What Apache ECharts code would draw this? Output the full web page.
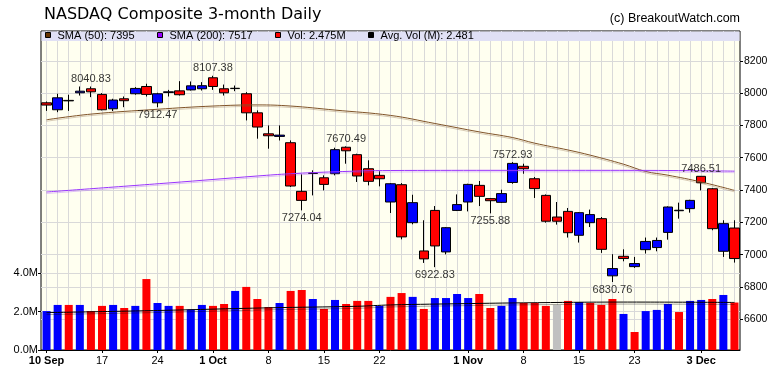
<!DOCTYPE html>
<html>
<head>
<meta charset="utf-8">
<title>NASDAQ Composite 3-month Daily</title>
<script src="https://cdn.jsdelivr.net/npm/echarts@6.0.0/dist/echarts.min.js"></script>
<style>
html, body { margin: 0; padding: 0; background: #fff; }
#chart { width: 780px; height: 376px; }
</style>
</head>
<body>
<div id="chart"></div>
<script>
// trading days, 10 Sep - 7 Dec 2018
var dates = [
    '2018-09-10','2018-09-11','2018-09-12','2018-09-13','2018-09-14',
    '2018-09-17','2018-09-18','2018-09-19','2018-09-20','2018-09-21',
    '2018-09-24','2018-09-25','2018-09-26','2018-09-27','2018-09-28',
    '2018-10-01','2018-10-02','2018-10-03','2018-10-04','2018-10-05',
    '2018-10-08','2018-10-09','2018-10-10','2018-10-11','2018-10-12',
    '2018-10-15','2018-10-16','2018-10-17','2018-10-18','2018-10-19',
    '2018-10-22','2018-10-23','2018-10-24','2018-10-25','2018-10-26',
    '2018-10-29','2018-10-30','2018-10-31','2018-11-01','2018-11-02',
    '2018-11-05','2018-11-06','2018-11-07','2018-11-08','2018-11-09',
    '2018-11-12','2018-11-13','2018-11-14','2018-11-15','2018-11-16',
    '2018-11-19','2018-11-20','2018-11-21','2018-11-23',
    '2018-11-26','2018-11-27','2018-11-28','2018-11-29','2018-11-30',
    '2018-12-03','2018-12-04','2018-12-06','2018-12-07'
];

var openP  = [7940,7897,7952,8002,8027,7992,7903,7965,7996,8041,7940,8004,8014,8020,8027,8095,8027,8028,7996,7878,
              7748,7732,7693,7392,7503,7476,7501,7665,7619,7532,7491,7326,7433,7198,7023,7274,7017,7274,7326,7429,
              7347,7324,7447,7547,7470,7367,7233,7268,7120,7198,7223,6869,6990,6926,7031,7044,7138,7272,7285,7485,
              7408,7021,7165];
var highP  = [7948,7996,7990,8041,8040.83,8000,7965,7979,8037,8058,8002,8020,8074,8072,8068,8107.38,8053,8047,8006,7893,
              7800,7800,7707,7497,7522,7491,7662,7670.49,7625,7584,7516,7443,7443,7371,7213,7301,7171,7373,7439,7456,
              7351,7402,7572.93,7563,7481,7373,7326,7289,7264,7279,7233,7003,7033,6986,7106,7106,7299,7322,7340,7486.51,
              7413,7213,7213];
var lowP   = [7890,7882,7890,7985,7975,7893,7889,7913,7990,7979,7912.47,7979,7985,8016,8016,8020,7985,8012,7831,7718,
              7656,7707,7419,7274.04,7367,7398,7491,7563,7450,7429,7423,7258,7095,7188,6949,6922.83,7002,7270,7268,7301,
              7255.88,7320,7439,7501,7351,7198,7186,7106,7075,7171,7011,6830.76,6959,6918,7007,7021,7093,7223,7260,7398,
              7151,6986,6951];
var closeP = [7926,7971,7955,8012,8008,7897,7957,7953,8029,7992,7996,8008,7990,8045,8046,8041,8002,8030,7878,7790,
              7736,7740,7425,7336,7505,7435,7650,7643,7487,7454,7470,7439,7110,7322,6974,7054,7167,7310,7435,7361,
              7334,7378,7565,7532,7409,7207,7207,7136,7260,7248,7033,6914,6976,6945,7082,7088,7295,7275,7336,7445,
              7161,7192,6976];
var prevClose = 7902;

// volume, millions
var vols = [2.03,2.35,2.35,2.35,2.03,2.30,2.35,2.19,2.30,3.70,2.45,2.30,2.30,2.12,2.35,2.30,2.40,3.08,3.29,2.66,
            2.24,2.45,3.08,3.13,2.66,2.14,2.61,2.40,2.56,2.56,2.30,2.77,2.97,2.77,2.14,2.71,2.71,2.92,2.71,2.92,
            2.19,2.30,2.71,2.45,2.45,2.30,2.35,2.56,2.50,2.45,2.35,2.66,1.88,0.94,2.03,2.09,2.40,1.98,2.56,2.61,
            2.66,2.87,2.475];

// moving averages read at a few days, [day index, value]
var sma50  = [[0,7835],[4,7870],[10,7900],[15,7920],[19,7927],[22,7920],[26,7895],[31,7862],[35,7812],[39,7760],
              [42,7725],[44,7690],[47,7648],[49,7616],[52,7560],[54,7515],[56,7492],[59,7450],[62,7398]];
var sma200 = [[0,7388],[11,7444],[19,7487],[22,7501],[26,7513],[31,7521],[40,7522],[50,7522],[56,7521],[62,7517]];
var avgVol = [[0,1.95],[10,2.06],[20,2.20],[28,2.28],[31,2.35],[38,2.42],[43,2.46],[52,2.50],[62,2.48]];

// marked highs and lows
var highMarks = [[4,8040.83],[15,8107.38],[27,7670.49],[42,7572.93],[59,7486.51]];
var lowMarks  = [[10,7912.47],[23,7274.04],[35,6922.83],[40,7255.88],[51,6830.76]];

// x axis labels
var tickIdx  = [0,5,10,15,20,25,30,38,43,48,53,59];
var tickText = ['10 Sep','17','24','1 Oct','8','15','22','1 Nov','8','15','23','3 Dec'];

var legendItems = [
    {text: 'SMA (50): 7395',       color: '#663300', x: 45.5},
    {text: 'SMA (200): 7517',      color: '#9900FF', x: 157.5},
    {text: 'Vol: 2.475M',          color: '#FF0000', x: 275.5},
    {text: 'Avg. Vol (M): 2.481',  color: '#000000', x: 368.5}
];

var FONT = '"Liberation Sans", Arial, sans-serif';
var GRIDC = '#D9D9D9';

var candles = dates.map(function (d, i) {
    return [openP[i], closeP[i], lowP[i], highP[i]];
});

var volData = vols.map(function (v, i) {
    var prev = i === 0 ? prevClose : closeP[i - 1];
    var c = closeP[i] > prev ? '#0000FF' : (closeP[i] < prev ? '#FF0000' : '#C0C0C0');
    return {value: v, itemStyle: {color: c}};
});

// half-day slots so the vertical grid runs through each candle
var slots = [];
for (var s = 0; s <= dates.length * 2; s++) slots.push(s);

var graphics = [
    {type: 'text', left: 44, top: 7, z: 110,
     style: {text: 'NASDAQ Composite 3-month Daily', font: '16px "DejaVu Sans"', fill: '#000'}},
    {type: 'text', right: 40, top: 12, z: 110,
     style: {text: '(c) BreakoutWatch.com', font: '12.5px ' + FONT, fill: '#000'}},
    {type: 'rect', z: 100, shape: {x: 41.5, y: 31.5, width: 698, height: 9.5},
     style: {fill: '#E0E0F5'}}
];
legendItems.forEach(function (it) {
    graphics.push({type: 'rect', z: 110, shape: {x: it.x, y: 32.5, width: 5, height: 5},
        style: {fill: it.color, stroke: '#000', lineWidth: 1}});
    graphics.push({type: 'text', z: 110, x: it.x + 12, y: 35.5,
        style: {text: it.text, font: '11px ' + FONT, fill: '#000',
                textVerticalAlign: 'middle', verticalAlign: 'middle'}});
});

var chart = echarts.init(document.getElementById('chart'));

var option = {
    animation: false,
    backgroundColor: '#fff',
    graphic: graphics,
    grid: [
        {left: 41, right: 40, top: 31, bottom: 26, show: true,
         backgroundColor: '#FFFFF0', borderColor: '#000', borderWidth: 1},
        {left: 41, right: 40, top: 60.8, height: 258.5},
        {left: 41, right: 40, top: 273.3, bottom: 26}
    ],
    xAxis: [{
        gridIndex: 0, type: 'category', data: slots, boundaryGap: false,
        axisLine: {show: false}, axisTick: {show: false}, axisLabel: {show: false},
        splitLine: {show: true, interval: function (i) { return i % 2 === 1; },
                    lineStyle: {color: GRIDC, width: 1}}
    }, {
        gridIndex: 1, type: 'category', data: dates, boundaryGap: true, show: false
    }, {
        gridIndex: 2, type: 'category', data: dates, boundaryGap: true,
        axisLine: {show: true, lineStyle: {color: '#000'}},
        axisTick: {show: true, alignWithLabel: true, length: 3, lineStyle: {color: '#000'},
                   interval: function (i) { return tickIdx.indexOf(i) >= 0; }},
        axisLabel: {
            interval: function (i) { return tickIdx.indexOf(i) >= 0; },
            margin: 5, color: '#000', fontSize: 11, fontFamily: FONT,
            formatter: function (v, i) {
                var t = tickText[tickIdx.indexOf(i)];
                return t.indexOf(' ') > 0 ? '{b|' + t + '}' : t;
            },
            rich: {b: {fontWeight: 'bold', fontSize: 11, fontFamily: FONT, color: '#000'}}
        },
        splitLine: {show: false}
    }],
    yAxis: [{
        gridIndex: 0, type: 'value', min: 0, max: 1, show: false
    }, {
        gridIndex: 1, type: 'value', position: 'right', min: 6600, max: 8200, interval: 200,
        axisLine: {show: false},
        axisTick: {show: true, length: 3, lineStyle: {color: '#000'}},
        axisLabel: {color: '#000', fontSize: 10.5, fontFamily: FONT, margin: 4,
                    formatter: function (v) { return String(v); }},
        splitLine: {show: true, lineStyle: {color: GRIDC}}
    }, {
        gridIndex: 2, type: 'value', position: 'left', min: 0, max: 4, interval: 2,
        axisLine: {show: false},
        axisTick: {show: true, length: 3, lineStyle: {color: '#000'}},
        axisLabel: {color: '#000', fontSize: 11, fontFamily: FONT, margin: 3,
                    formatter: function (v) { return v.toFixed(1) + 'M'; }},
        splitLine: {show: true, lineStyle: {color: GRIDC}}
    }],
    series: [{
        name: 'Price', type: 'candlestick', xAxisIndex: 1, yAxisIndex: 1,
        data: candles, barWidth: 10,
        itemStyle: {color: '#0000FF', color0: '#FF0000', borderColor: '#000', borderColor0: '#000',
                    borderWidth: 1}
    }, {
        name: 'Vol', type: 'bar', xAxisIndex: 2, yAxisIndex: 2, data: volData, barWidth: 8
    }, {
        name: 'Avg Vol', type: 'line', xAxisIndex: 2, yAxisIndex: 2, data: avgVol,
        smooth: 0.4, symbol: 'none', z: 5,
        lineStyle: {color: '#000', width: 1, shadowColor: 'rgba(0,0,0,0.35)', shadowOffsetY: 2, shadowBlur: 0}
    }, {
        name: 'SMA50', type: 'line', xAxisIndex: 1, yAxisIndex: 1, data: sma50,
        smooth: 0.4, symbol: 'none', z: 5,
        lineStyle: {color: '#7F5328', width: 1, shadowColor: 'rgba(127,83,40,0.3)', shadowOffsetY: 1.5, shadowBlur: 0}
    }, {
        name: 'SMA200', type: 'line', xAxisIndex: 1, yAxisIndex: 1, data: sma200,
        smooth: 0.4, symbol: 'none', z: 5,
        lineStyle: {color: '#9933FF', width: 1, shadowColor: 'rgba(153,51,255,0.3)', shadowOffsetY: 1.5, shadowBlur: 0}
    }, {
        name: 'Highs', type: 'scatter', xAxisIndex: 1, yAxisIndex: 1, data: highMarks,
        symbolSize: 0, z: 6,
        label: {show: true, position: 'top', distance: 2, color: '#000', fontSize: 11, fontFamily: FONT,
                formatter: function (p) { return p.value[1].toFixed(2); }}
    }, {
        name: 'Lows', type: 'scatter', xAxisIndex: 1, yAxisIndex: 1, data: lowMarks,
        symbolSize: 0, z: 6,
        label: {show: true, position: 'bottom', distance: 2, color: '#000', fontSize: 11, fontFamily: FONT,
                formatter: function (p) { return p.value[1].toFixed(2); }}
    }]
};

chart.setOption(option);
</script>
</body>
</html>
